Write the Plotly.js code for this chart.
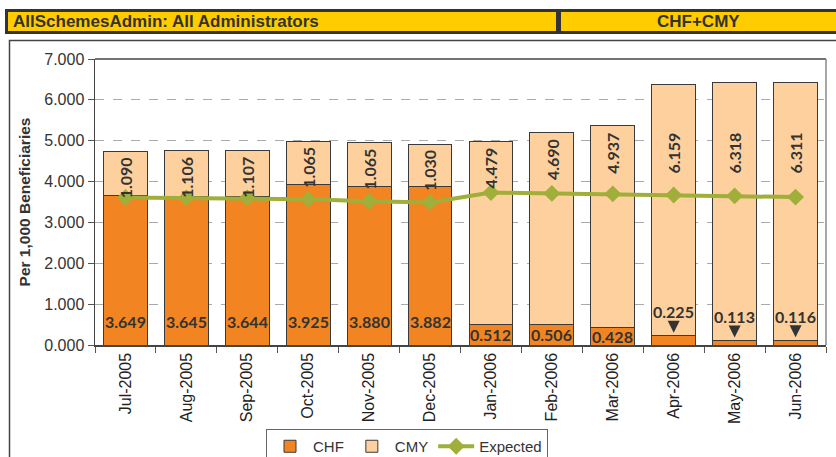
<!DOCTYPE html>
<html>
<head>
<meta charset="utf-8">
<script src="https://cdn.plot.ly/plotly-3.0.1.min.js"></script>
<style>
html,body{margin:0;padding:0;background:#fff;}
#chart{width:836px;height:457px;}
</style>
</head>
<body>
<div id="chart"></div>
<script>
const months = ['Jul-2005','Aug-2005','Sep-2005','Oct-2005','Nov-2005','Dec-2005','Jan-2006','Feb-2006','Mar-2006','Apr-2006','May-2006','Jun-2006'];
const chf = [3.649,3.645,3.644,3.925,3.880,3.882,0.512,0.506,0.428,0.225,0.113,0.116];
const cmy = [1.090,1.106,1.107,1.065,1.065,1.030,4.479,4.690,4.937,6.159,6.318,6.311];
const expected = [3.61,3.60,3.60,3.57,3.52,3.49,3.73,3.71,3.70,3.67,3.65,3.62];
const yTicks = [0,1,2,3,4,5,6,7];
const headerLeft = 'AllSchemesAdmin: All Administrators';
const headerRight = 'CHF+CMY';
const yTitle = 'Per 1,000 Beneficiaries';

const W = 836, H = 457, L = 95, R = 10, T = 59, B = 112;
const pw = W - L - R, ph = H - T - B;
const px = x => (x - L) / pw;
const py = y => (H - B - y) / ph;

const labelFont = {family:'Lato, "DejaVu Sans", sans-serif', size:16, color:'#333', weight:'bold'};

const traces = [
  {type:'bar', name:'CHF', x:months, y:chf, marker:{color:'#F28522', line:{color:'#3a3a3a', width:1}}, hoverinfo:'y'},
  {type:'bar', name:'CMY', x:months, y:cmy, marker:{color:'#FDD09E', line:{color:'#3a3a3a', width:1}}, hoverinfo:'y'},
  {type:'scatter', mode:'lines+markers', name:'Expected', x:months, y:expected,
   line:{color:'#A0AE3A', width:4}, marker:{symbol:'diamond', size:13, color:'#A0AE3A'}}
];

const annotations = [];
months.forEach((m, i) => {
  const total = chf[i] + cmy[i];
  annotations.push({x:m, y:Math.min(total, 5.35), xref:'x', yref:'y', yanchor:'top', yshift:-4,
    text:cmy[i].toFixed(3), textangle:-90, showarrow:false, font:labelFont});
  if (chf[i] < 0.3) {
    annotations.push({x:m, y:chf[i], xref:'x', yref:'y', text:chf[i].toFixed(3), showarrow:true,
      ax:0, ay:-24, arrowhead:2, arrowsize:1.6, arrowwidth:1.5, arrowcolor:'#333', standoff:3, font:labelFont});
  } else {
    annotations.push({x:m, y:Math.min(chf[i]/2, 0.57), xref:'x', yref:'y', text:chf[i].toFixed(3),
      showarrow:false, font:labelFont});
  }
});

annotations.push({xref:'paper', yref:'paper', x:px(11), y:py(21.5), xanchor:'left', yanchor:'middle',
  text:'<b>'+headerLeft+'</b>', showarrow:false,
  font:{family:'"Liberation Sans Narrow", "Liberation Sans", Arial, sans-serif', size:17, color:'#333'}});
annotations.push({xref:'paper', yref:'paper', x:px(698), y:py(21.5), xanchor:'center', yanchor:'middle',
  text:'<b>'+headerRight+'</b>', showarrow:false,
  font:{family:'"Liberation Sans Narrow", "Liberation Sans", Arial, sans-serif', size:17, color:'#333'}});

const shapes = [
  {type:'rect', xref:'paper', yref:'paper', x0:px(5), x1:px(845), y0:py(9), y1:py(34), fillcolor:'#333', line:{width:0}, layer:'above'},
  {type:'rect', xref:'paper', yref:'paper', x0:px(8), x1:px(556), y0:py(12), y1:py(31), fillcolor:'#FFCC00', line:{width:0}, layer:'above'},
  {type:'rect', xref:'paper', yref:'paper', x0:px(561), x1:px(845), y0:py(12), y1:py(31), fillcolor:'#FFCC00', line:{width:0}, layer:'above'},
  {type:'rect', xref:'paper', yref:'paper', x0:px(9.5), x1:px(850), y0:py(40.5), y1:py(475), fillcolor:'rgba(0,0,0,0)', line:{color:'#444', width:1.5}, layer:'below'},
  {type:'line', xref:'paper', yref:'paper', x0:0, x1:1, y0:1, y1:1, line:{color:'#444', width:1.5}},
  {type:'line', xref:'paper', yref:'paper', x0:1, x1:1, y0:0, y1:1, line:{color:'#888', width:1.5}}
];

const layout = {
  width:W, height:H,
  margin:{l:L, r:R, t:T, b:B, pad:0, autoexpand:false},
  paper_bgcolor:'rgba(0,0,0,0)', plot_bgcolor:'#fff',
  barmode:'stack', bargap:0.28,
  font:{family:'"Liberation Sans", Arial, sans-serif', size:14, color:'#333'},
  showlegend:true,
  legend:{orientation:'h', x:px(407), xanchor:'center', y:py(429), yanchor:'top',
    bordercolor:'#666', borderwidth:1, bgcolor:'#fff', font:{size:15, color:'#333'},
    traceorder:'normal', itemwidth:36, tracegroupgap:0},
  xaxis:{type:'category', range:[-0.5, months.length - 0.5], tickangle:-90, ticks:'outside', ticklen:6, tickcolor:'#555', automargin:false,
    tickson:'boundaries', showline:true, linecolor:'#444', linewidth:1.5, showgrid:false,
    tickfont:{size:16, color:'#222'}, fixedrange:true},
  yaxis:{range:[0,7], tickvals:yTicks, tickformat:'.3f', ticks:'outside', ticklen:6, tickcolor:'#555', automargin:false,
    showline:true, linecolor:'#444', linewidth:1.5, showgrid:true, gridcolor:'#aaa', griddash:'dash', gridwidth:1,
    zeroline:false, tickfont:{size:16, color:'#333'},
    title:{text:'<b>'+yTitle+'</b>', font:{size:15.5, color:'#333'}, standoff:10}, fixedrange:true},
  annotations:annotations,
  shapes:shapes
};

Plotly.newPlot('chart', traces, layout, {displayModeBar:false, staticPlot:true});
</script>
</body>
</html>
